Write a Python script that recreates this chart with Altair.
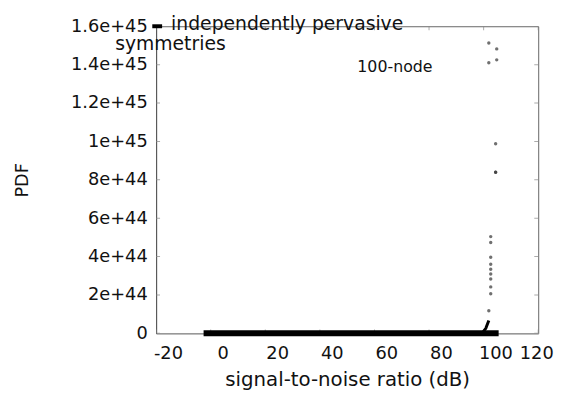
import altair as alt
import pandas as pd

# axis tick values
x_ticks = [-20, 0, 20, 40, 60, 80, 100, 120]
y_ticks = [0, 2e44, 4e44, 6e44, 8e44, 1e45, 1.2e45, 1.4e45, 1.6e45]

# dense band of samples lying on PDF = 0
band_x = [-2.6, 99.4, 105.5]
band_y = [0.0, 0.0, 0.0]
# short rise at the right end of the band
rise_x = [99.4, 100.8, 101.9]
rise_y = [0.0, 2.6e43, 6.7e43]
# isolated samples
pts_x = [101.9, 104.8, 101.9, 104.8, 104.4, 104.4, 104.4,
         102.6, 102.6, 102.6, 102.6, 102.6, 102.6, 102.6, 102.6, 102.6, 101.9]
pts_y = [1.513e45, 1.482e45, 1.410e45, 1.425e45, 9.88e44, 8.39e44, 8.39e44,
         5.04e44, 4.73e44, 3.96e44, 3.60e44, 3.34e44, 3.09e44, 2.83e44, 2.42e44, 2.06e44, 1.18e44]

legend_lines = ["independently pervasive", "symmetries"]
legend_text_x = [-14.5, 5.5]
legend_text_y = [1.6103e45, 1.5075e45]
legend_key_x = [-21.4]
legend_key_x2 = [-17.8]
legend_key_y = [1.6e45]
annot_text = ["100-node"]
annot_x = [67.5]
annot_y = [1.389e45]

FONT = "DejaVu Sans"

xs = alt.Scale(domain=[-20, 120], nice=False, zero=False)
ys = alt.Scale(domain=[0, 1.6e45], nice=False, zero=False)

xaxis = alt.Axis(
    values=x_ticks, ticks=False, grid=False,
    labelExpr="'' + datum.value",
    title="signal-to-noise ratio (dB)", titleFont=FONT, titleFontSize=20,
    titleFontWeight="normal", titleColor="#111", titlePadding=7,
    labelFont=FONT, labelFontSize=18, labelColor="#111", labelPadding=12,
    labelFlush=False, labelOverlap=False,
    labelOffset={"condition": {"test": "datum.value == 120", "value": -2}, "value": 12},
    domainColor="#999",
)
yaxis = alt.Axis(
    values=y_ticks, ticks=False, grid=False,
    labelExpr="datum.value == 0 ? '0' : format(datum.value, '~e')",
    title="PDF", titleFont=FONT, titleFontSize=18, titleFontWeight="normal",
    titleColor="#111", titlePadding=40,
    labelFont=FONT, labelFontSize=18, labelColor="#111", labelPadding=9,
    labelOverlap=False, labelFlush=False, domainColor="#555",
)

def X(field="x"):
    return alt.X(f"{field}:Q", scale=xs, axis=xaxis)

def Y(field="y"):
    return alt.Y(f"{field}:Q", scale=ys, axis=yaxis)

# inward tick marks on all four sides
tick_rows_h = [{"x": -20, "y": v} for v in y_ticks] + [{"x": 120, "y": v} for v in y_ticks]
tick_rows_v = [{"x": v, "y": 0} for v in x_ticks] + [{"x": v, "y": 1.6e45} for v in x_ticks]

ticks_h = alt.Chart(pd.DataFrame(tick_rows_h)).mark_tick(
    orient="horizontal", size=8, thickness=1, color="#888", clip=True
).encode(x=X(), y=Y())
ticks_v = alt.Chart(pd.DataFrame(tick_rows_v)).mark_tick(
    orient="vertical", size=8, thickness=1, color="#888", clip=True
).encode(x=X(), y=Y())

band = alt.Chart(pd.DataFrame({"x": band_x, "y": band_y})).mark_line(
    color="black", strokeWidth=6
).encode(x=X(), y=Y())
rise = alt.Chart(pd.DataFrame({"x": rise_x, "y": rise_y})).mark_line(
    color="black", strokeWidth=3
).encode(x=X(), y=Y())
points = alt.Chart(pd.DataFrame({"x": pts_x, "y": pts_y})).mark_point(
    shape="circle", filled=True, size=12, color="#333", opacity=0.7
).encode(x=X(), y=Y())

key = alt.Chart(pd.DataFrame({"x": legend_key_x, "x2": legend_key_x2, "y": legend_key_y})).mark_rule(
    color="black", strokeWidth=4
).encode(x=X(), x2="x2:Q", y=Y())

leg1 = alt.Chart(pd.DataFrame({"x": legend_text_x[:1], "y": legend_text_y[:1], "t": legend_lines[:1]})).mark_text(
    align="left", baseline="middle", font=FONT, fontSize=19, color="#111"
).encode(x=X(), y=Y(), text="t:N")
leg2 = alt.Chart(pd.DataFrame({"x": legend_text_x[1:], "y": legend_text_y[1:], "t": legend_lines[1:]})).mark_text(
    align="right", baseline="middle", font=FONT, fontSize=19, color="#111"
).encode(x=X(), y=Y(), text="t:N")
annot = alt.Chart(pd.DataFrame({"x": annot_x, "y": annot_y, "t": annot_text})).mark_text(
    align="center", baseline="middle", font=FONT, fontSize=16, color="#111"
).encode(x=X(), y=Y(), text="t:N")

chart = alt.layer(ticks_h, ticks_v, band, rise, points, key, leg1, leg2, annot).properties(
    width=387, height=311,
    padding={"left": 150, "top": 16, "right": 17, "bottom": 62},
    autosize=alt.AutoSizeParams(type="none"),
    background="white",
).configure_view(stroke="#666", strokeWidth=1)

chart.save("out.html", embed_options={"renderer": "svg", "actions": False})
